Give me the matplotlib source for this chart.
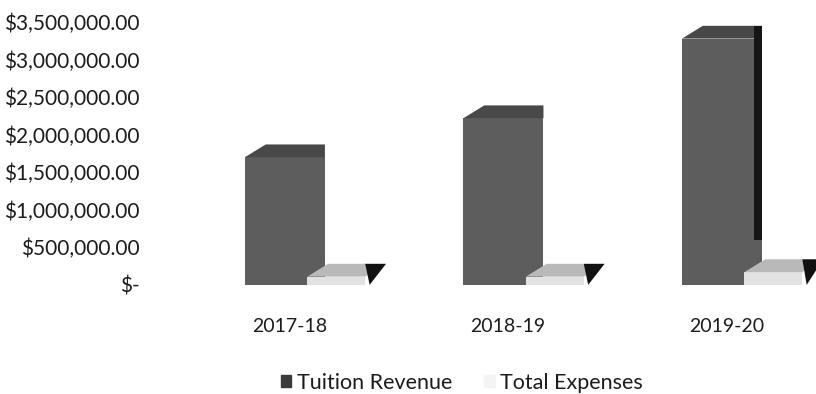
import matplotlib.pyplot as plt
from matplotlib.patches import Polygon, Patch
from matplotlib.ticker import FuncFormatter

years = ["2017-18", "2018-19", "2019-20"]
tuition = [1700000, 2220000, 3280000]
expenses = [110000, 110000, 170000]
y_ticks = [0, 500000, 1000000, 1500000, 2000000, 2500000, 3000000, 3500000]

plt.rcParams['font.family'] = ['Lato', 'DejaVu Sans']

fig = plt.figure(figsize=(8.16, 3.94), dpi=100)
ax = fig.add_axes([0.294, 0.277, 0.706, 0.667])

# fake 3D: front face + slanted top + side
dx = 0.095
dy = 170000
tw = 0.366
ew = 0.265
eoff = 0.235

for i, (t, e) in enumerate(zip(tuition, expenses)):
    L, R = i - tw / 2, i + tw / 2
    ax.bar(i, t, width=tw, color="#5d5d5d", edgecolor="none", zorder=2)
    ax.add_patch(Polygon([(L, t), (L + dx, t + dy), (R, t + dy), (R, t)],
                         closed=True, color="#484848", lw=0, zorder=2))
    if i == len(years) - 1:
        ax.add_patch(Polygon([(R - 0.035, t + dy), (R, t + dy), (R, 600000), (R - 0.035, 600000)],
                             closed=True, color="#151515", lw=0, zorder=3))

    c = i + eoff
    L, R = c - ew / 2, c + ew / 2
    ax.bar(c, e, width=ew, color="#e2e2e2", edgecolor="none", zorder=4)
    ax.add_patch(Polygon([(L, e), (L + dx, e + dy), (R + dx, e + dy), (R, e)],
                         closed=True, color="#b9b9b9", lw=0, zorder=4))
    ax.add_patch(Polygon([(R, e + dy), (R + dx, e + dy), (R + 0.02, 0)],
                         closed=True, color="#111111", lw=0, zorder=5))

ax.set_xlim(-0.206, 2.43)
ax.set_ylim(0, 3500000)
ax.set_yticks(y_ticks)
ax.yaxis.set_major_formatter(FuncFormatter(lambda v, p: "$-" if v == 0 else "${:,.2f}".format(v)))
ax.set_xticks([i + 0.02 for i in range(len(years))])
ax.set_xticklabels(years)
ax.tick_params(axis="y", length=0, pad=72, labelsize=15, labelcolor="#1c1c1c")
ax.tick_params(axis="x", length=0, pad=24, labelsize=14, labelcolor="#1c1c1c")
for s in ax.spines.values():
    s.set_visible(False)

handles = [Patch(color="#3a3a3a", label="Tuition Revenue"),
           Patch(color="#f4f4f4", label="Total Expenses")]
fig.legend(handles=handles, loc="center", bbox_to_anchor=(0.566, 0.028), ncol=2,
           frameon=False, fontsize=15.5, handlelength=0.5, handleheight=0.5,
           handletextpad=0.25, columnspacing=1.5, labelcolor="#1c1c1c")

fig.savefig("out.png", dpi=100, facecolor="white")
